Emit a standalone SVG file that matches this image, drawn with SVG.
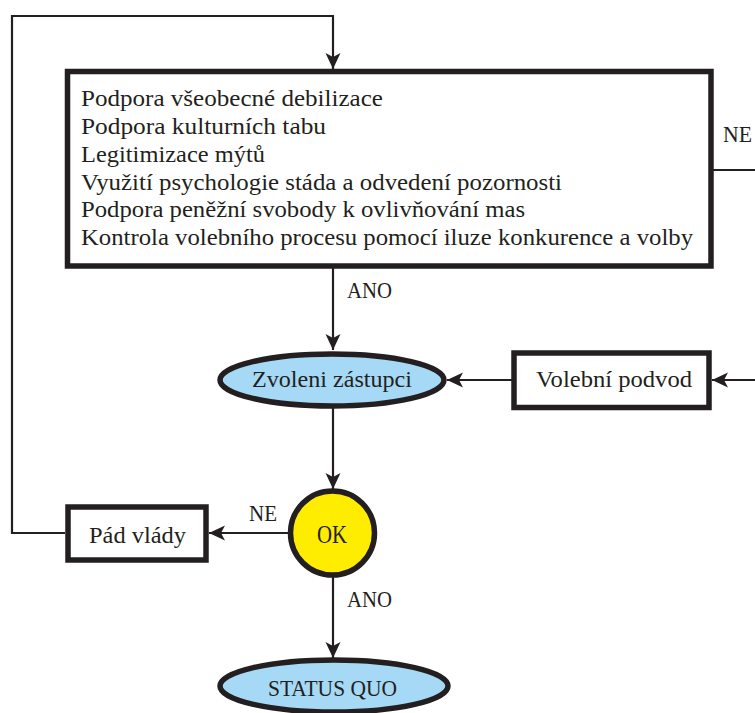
<svg xmlns="http://www.w3.org/2000/svg" width="755" height="713" viewBox="0 0 755 713">
<defs>
<marker id="ah" markerUnits="userSpaceOnUse" markerWidth="18" markerHeight="16" refX="16" refY="7.5" orient="auto">
<path d="M0,0 L16,7.5 L0,15 L4,7.5 Z" fill="#231f20"/>
</marker>
</defs>
<style>
.t{font-family:"Liberation Serif","Times New Roman",serif;font-size:23.5px;fill:#231f20}
.c{text-anchor:middle}
.box{fill:#fff;stroke:#231f20;stroke-width:5.5}
.ell{fill:#a6d9f5;stroke:#231f20;stroke-width:5.5}
.ok{fill:#ffed00;stroke:#231f20;stroke-width:5.5}
.ln{fill:none;stroke:#231f20;stroke-width:2.2}
.arr{fill:none;stroke:#231f20;stroke-width:2.2;marker-end:url(#ah)}
</style>
<rect width="755" height="713" fill="#fff"/>
<g id="connectors">
<polyline class="arr" points="65,533 12,533 12,16 333,16 333,69"/>
<line class="arr" x1="333" y1="268" x2="333" y2="350"/>
<line class="ln" x1="711" y1="170" x2="755" y2="170"/>
<line class="arr" x1="755" y1="380" x2="712" y2="380"/>
<line class="arr" x1="514" y1="380" x2="447" y2="380"/>
<line class="arr" x1="333" y1="408" x2="333" y2="489"/>
<line class="arr" x1="290" y1="533" x2="209" y2="533"/>
<line class="arr" x1="333" y1="577" x2="333" y2="658"/>
<text class="t" x="723" y="142" textLength="29" lengthAdjust="spacingAndGlyphs">NE</text>
<text class="t" x="347" y="298" textLength="45" lengthAdjust="spacingAndGlyphs">ANO</text>
<text class="t" x="249" y="521" textLength="28" lengthAdjust="spacingAndGlyphs">NE</text>
<text class="t" x="347" y="607" textLength="45" lengthAdjust="spacingAndGlyphs">ANO</text>
</g>
<g id="main">
<rect class="box" x="67.5" y="71.5" width="643.5" height="194.5"/>
<text class="t" x="81" y="106" textLength="302" lengthAdjust="spacingAndGlyphs">Podpora všeobecné debilizace</text>
<text class="t" x="81" y="134" textLength="245" lengthAdjust="spacingAndGlyphs">Podpora kulturních tabu</text>
<text class="t" x="81" y="162" textLength="184" lengthAdjust="spacingAndGlyphs">Legitimizace mýtů</text>
<text class="t" x="81" y="190" textLength="481" lengthAdjust="spacingAndGlyphs">Využití psychologie stáda a odvedení pozornosti</text>
<text class="t" x="81" y="217" textLength="444" lengthAdjust="spacingAndGlyphs">Podpora peněžní svobody k ovlivňování mas</text>
<text class="t" x="81" y="245" textLength="612" lengthAdjust="spacingAndGlyphs">Kontrola volebního procesu pomocí iluze konkurence a volby</text>
</g>
<g id="zvoleni">
<ellipse class="ell" cx="332" cy="380" rx="112" ry="26"/>
<text class="t" x="252" y="387" textLength="160" lengthAdjust="spacingAndGlyphs">Zvoleni zástupci</text>
</g>
<g id="podvod">
<rect class="box" x="514" y="353" width="195" height="54.5"/>
<text class="t" x="536" y="387" textLength="156" lengthAdjust="spacingAndGlyphs">Volební podvod</text>
</g>
<g id="ok">
<circle class="ok" cx="332.5" cy="533" r="42"/>
<text class="t" x="317" y="543" textLength="30" lengthAdjust="spacingAndGlyphs" style="font-size:25px">OK</text>
</g>
<g id="pad">
<rect class="box" x="68" y="507" width="138" height="53"/>
<text class="t" x="89" y="543" textLength="97" lengthAdjust="spacingAndGlyphs">Pád vlády</text>
</g>
<g id="status">
<ellipse class="ell" cx="334" cy="686" rx="114" ry="26"/>
<text class="t" x="268" y="696" textLength="129" lengthAdjust="spacingAndGlyphs">STATUS QUO</text>
</g>
</svg>
